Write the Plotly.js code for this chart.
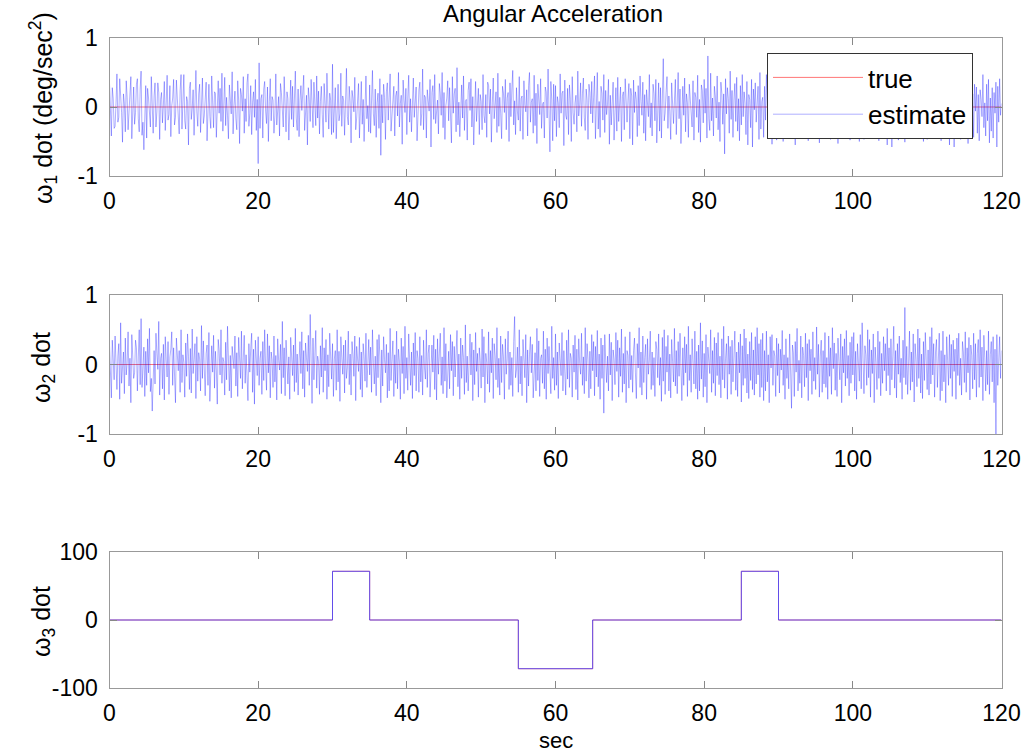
<!DOCTYPE html>
<html>
<head>
<meta charset="utf-8">
<script src="https://cdn.plot.ly/plotly-3.0.1.min.js"></script>
<style>html,body{margin:0;padding:0;background:#fff;}#chart{width:1024px;height:754px;}</style>
</head>
<body>
<div id="chart"></div>
<script>
// ---- data ----
var sampleStep = 0.125; // seconds between estimate samples
var w1Estimate = [
0.35,-0.12,-0.42,0.28,0.12,-0.31,-0.28,0.05,0.48,-0.22,
-0.15,0.41,0.22,-0.08,-0.51,0.19,0.05,-0.36,0.38,0.14,
-0.33,-0.04,0.18,0.44,-0.46,0.09,0.29,-0.25,-0.08,0.33,
0.41,-0.17,-0.36,0.26,0.52,-0.41,-0.22,-0.62,0.09,0.31,
-0.45,0.27,0.13,-0.12,-0.29,0.44,0.06,-0.38,0.16,0.35,
-0.29,-0.07,0.35,0.21,-0.47,0.11,0.21,-0.23,0.03,0.37,
-0.34,0.08,0.46,-0.19,-0.11,0.31,-0.43,0.02,0.13,0.4,
-0.26,-0.15,0.39,0.12,-0.11,-0.39,0.24,0.47,-0.32,0.06,
0.47,-0.2,-0.32,0.15,0.08,-0.55,0.27,0.36,-0.18,-0.03,
0.25,-0.41,0.1,0.53,-0.07,-0.28,0.19,0.33,-0.37,0.04,
0.42,-0.24,-0.13,0.11,0.36,-0.49,0.07,0.33,-0.14,-0.31,
0.45,0.12,-0.3,0.22,0.2,-0.44,-0.05,0.38,-0.09,0.27,
-0.21,0.49,-0.35,0.06,0.43,-0.27,0.14,-0.12,-0.46,0.32,
0.16,-0.1,0.51,-0.39,0.02,0.23,-0.17,-0.33,0.38,0.09,
-0.53,0.27,0.18,-0.06,0.44,-0.38,0.12,-0.21,0.35,0.48,
-0.28,-0.09,0.31,-0.4,0.07,0.22,-0.15,0.4,-0.34,0.11,
-0.82,0.64,-0.31,0.12,0.18,-0.45,0.26,0.37,-0.06,-0.24,
0.29,-0.5,0.08,0.41,-0.2,0.15,0.1,-0.38,-0.12,0.48,
-0.26,0.03,0.15,-0.42,0.34,0.21,-0.13,-0.29,0.44,-0.05,
-0.36,0.22,0.12,-0.48,0.07,0.39,-0.18,0.3,-0.29,0.14,
0.52,-0.16,-0.34,0.26,-0.43,0.09,0.31,-0.05,0.19,0.46,
-0.34,0.04,0.17,-0.55,0.28,0.11,-0.21,0.4,-0.12,-0.3,
0.36,0.05,-0.27,0.45,-0.16,0.23,-0.39,0.08,0.3,-0.11,
-0.44,0.34,0.14,-0.22,0.49,-0.07,-0.32,0.2,0.1,-0.4,
0.62,-0.37,0.15,0.28,-0.46,0.05,0.33,-0.2,-0.1,0.49,
-0.28,0.16,0.09,-0.41,0.38,0.56,-0.14,-0.26,0.3,0.07,
-0.52,0.24,0.13,-0.07,0.43,-0.33,-0.16,0.19,0.34,-0.45,
0.08,0.37,-0.25,0.11,-0.5,0.27,0.45,-0.17,0.02,-0.36,
0.32,-0.38,0.14,0.53,-0.1,-0.27,0.26,-0.44,0.06,0.2,
-0.31,0.41,-0.7,0.18,-0.23,0.33,0.14,-0.47,0.22,0.35,
-0.19,0.07,0.48,-0.35,-0.12,0.06,0.3,-0.42,0.16,0.23,
-0.13,0.5,-0.29,0.05,0.17,-0.54,0.39,0.1,-0.08,0.27,
-0.4,0.13,0.46,-0.22,0.12,-0.36,0.29,0.42,-0.15,0.04,
0.29,-0.49,0.08,0.25,0.36,-0.27,-0.1,0.55,-0.33,0.17,
0.14,-0.45,0.25,0.06,-0.06,0.4,-0.58,0.21,0.31,-0.18,
0.47,-0.24,-0.05,0.1,-0.39,0.34,0.2,-0.12,0.5,-0.3,
0.21,-0.47,0.02,0.13,0.38,-0.2,0.28,-0.14,-0.52,0.44,
-0.09,0.19,0.27,-0.36,0.57,-0.26,0.07,-0.43,0.15,0.32,
-0.16,0.45,-0.34,0.08,0.11,-0.48,0.24,0.36,-0.05,0.41,
-0.29,0.15,-0.55,0.22,0.37,-0.21,0.09,0.27,-0.4,0.18,
0.08,-0.33,0.47,-0.12,-0.23,0.18,-0.44,0.36,0.31,-0.1,
0.26,-0.51,0.06,0.42,-0.17,0.05,0.22,-0.37,0.49,-0.28,
0.14,-0.09,-0.46,0.3,0.2,-0.08,0.4,-0.33,0.13,0.21,
-0.5,0.35,-0.14,0.26,0.53,-0.26,0.09,-0.4,0.28,-0.06,
-0.19,0.44,-0.35,0.12,0.16,-0.47,0.38,0.03,-0.07,0.25,
-0.42,0.31,0.5,-0.22,0.07,0.12,-0.38,0.46,-0.27,0.2,
-0.53,0.33,0.17,-0.11,0.41,-0.31,0.04,0.07,-0.45,0.29,
0.22,-0.16,0.55,-0.24,-0.65,0.37,0.1,-0.49,0.33,-0.2,
0.31,-0.43,0.15,0.06,-0.3,0.48,-0.09,0.2,0.23,-0.56,
0.39,-0.12,-0.18,0.27,-0.4,0.32,0.11,-0.5,0.44,-0.08,
-0.25,0.06,0.17,-0.36,0.52,-0.13,0.03,0.35,-0.28,0.19,
0.42,-0.15,-0.34,0.26,0.1,-0.47,0.33,0.21,-0.1,0.37,
-0.23,0.14,0.45,-0.46,0.09,0.5,-0.32,0.08,-0.44,0.3,
0.2,-0.19,0.47,-0.37,0.24,-0.11,0.04,0.4,-0.54,0.17,
-0.26,0.13,0.36,-0.48,0.12,0.28,-0.35,0.43,-0.21,0.05,
0.29,-0.5,0.15,0.22,-0.33,0.41,-0.05,-0.22,0.1,0.34,
-0.46,0.27,0.16,-0.55,0.39,-0.08,0.22,0.11,-0.43,0.31,
-0.27,0.45,0.08,-0.12,0.36,-0.38,0.18,-0.49,0.25,0.09,
-0.14,0.47,-0.3,0.06,-0.42,0.33,0.2,-0.2,0.4,-0.52,
0.13,0.35,-0.35,0.28,-0.45,0.04,0.7,-0.2,-0.09,0.21,
0.44,-0.31,0.16,-0.07,-0.47,0.35,0.11,-0.24,0.09,0.4,
-0.4,0.19,0.5,-0.17,0.26,-0.53,0.02,0.3,-0.12,0.42,
-0.36,0.19,0.06,-0.44,0.33,0.13,-0.06,-0.29,0.38,-0.48,
0.21,0.14,-0.15,0.46,-0.37,0.11,-0.51,0.32,0.24,-0.23,
0.4,-0.09,0.27,-0.45,0.74,-0.17,-0.34,0.49,-0.2,0.13,
-0.42,0.3,0.16,-0.16,0.45,-0.33,0.07,-0.5,0.36,0.2,
-0.25,0.19,-0.68,0.41,-0.1,0.28,0.12,-0.38,0.52,-0.18,
0.24,-0.44,0.1,0.34,-0.21,0.43,-0.35,0.12,-0.49,0.31,
-0.26,0.47,-0.14,0.22,0.06,-0.4,0.37,-0.55,0.18,0.11,
-0.3,0.4,-0.58,0.26,-0.04,0.35,-0.22,0.13,0.3,-0.47,
0.5,-0.32,0.08,0.14,-0.44,0.3,-0.19,0.47,0.05,-0.37,
0.24,-0.11,0.4,-0.54,0.17,0.28,-0.26,0.36,-0.48,0.12,
-0.35,0.43,-0.21,0.03,0.29,-0.5,0.15,0.2,-0.33,0.41,
-0.22,0.1,0.07,-0.46,0.34,-0.16,0.27,0.12,-0.55,0.39,
-0.08,0.22,-0.43,0.31,0.18,-0.27,0.45,-0.12,0.04,0.36,
-0.38,0.18,-0.49,0.25,0.09,-0.14,0.47,-0.3,0.06,-0.42,
0.33,-0.2,0.4,0.15,-0.52,0.13,-0.35,0.28,0.21,-0.45,
0.21,-0.09,0.44,-0.31,0.16,0.07,-0.47,0.35,-0.24,0.09,
-0.4,0.5,-0.17,0.26,-0.53,0.3,0.12,-0.12,0.42,-0.36,
0.19,-0.44,0.33,0.05,-0.06,-0.29,0.38,-0.48,0.21,0.13,
-0.42,0.3,-0.16,0.11,0.45,-0.33,0.07,-0.5,0.36,0.22,
-0.25,0.19,-0.47,0.41,-0.1,0.06,0.28,-0.38,0.52,-0.18,
0.24,-0.44,0.34,0.1,-0.21,0.43,-0.35,0.12,-0.49,0.31,
-0.26,0.47,-0.14,0.22,-0.4,0.37,0.05,-0.55,0.18,0.26,
-0.3,0.4,-0.58,0.26,-0.35,0.2,0.12,-0.29,0.38,-0.48,
0.21,-0.15,0.46,-0.37,0.11,0.04,-0.51,0.32,-0.23,0.4,
-0.09,0.27,-0.45,0.17,-0.34,0.49,-0.2,0.13,0.08,-0.42,
0.3,-0.16,0.45,-0.33,0.07,0.22,-0.5,0.36,-0.25,0.19,
-0.47,0.41,-0.1,0.28,-0.38,0.52,0.03,-0.18,0.24,-0.44,
0.34,-0.21,0.43,-0.35,0.12,-0.49,0.31,0.14,-0.26,0.47,
-0.14,0.22,-0.4,0.37,-0.55,0.18,0.09,-0.3,0.4,-0.58,
0.26,-0.35,0.2,0.44,-0.31,0.16,-0.47,0.35,-0.24,0.09,
-0.4,0.5,-0.17,0.26,-0.53,0.3,-0.12,0.42,-0.36,0.19,
-0.44,0.33,-0.06,0.29,-0.38,0.18,-0.49,0.25,0.11,-0.14,
0.47,-0.3,0.06,-0.42,0.33,-0.2,0.4,-0.52,0.13,-0.35,
0.28,-0.45,0.21,-0.09,0.36,-0.58,0.3,-0.22,0.41,-0.12,
0.05];
var w2Estimate = [
0.28,-0.1,-0.48,0.35,0.14,-0.22,0.41,-0.05,-0.36,0.12,
0.3,-0.5,0.6,-0.27,0.08,0.18,-0.42,0.38,-0.15,0.02,
0.47,-0.31,0.09,-0.55,0.43,0.2,-0.2,-0.12,0.35,0.24,
-0.38,0.11,0.5,-0.29,0.66,-0.33,0.06,0.25,-0.46,0.19,
-0.3,0.37,-0.12,0.52,-0.39,-0.2,-0.67,0.04,0.2,-0.28,
0.45,0.16,-0.07,0.62,-0.44,0.09,0.16,-0.35,0.29,-0.51,
0.4,0.07,-0.18,0.33,-0.43,0.11,0.22,0.47,-0.3,0.24,
-0.1,-0.55,0.38,0.06,-0.09,0.2,-0.4,0.5,-0.26,0.14,
0.03,-0.47,0.31,-0.17,0.44,0.12,-0.36,0.23,-0.41,0.51,
-0.13,0.07,0.3,-0.49,0.4,-0.24,0.17,0.08,-0.38,0.56,
-0.2,0.34,-0.05,-0.45,0.16,0.28,-0.3,0.46,-0.53,0.1,
0.27,-0.11,0.42,-0.34,0.19,-0.08,-0.57,0.36,0.21,-0.15,
0.5,-0.27,0.1,0.04,-0.44,0.32,-0.22,0.55,0.15,-0.38,
0.13,-0.48,0.26,0.07,-0.06,0.41,-0.31,0.17,-0.46,0.39,
-0.04,-0.2,0.48,-0.35,0.1,0.42,-0.27,0.14,-0.16,-0.52,
0.3,-0.11,0.23,0.45,-0.4,0.22,-0.57,0.35,0.08,-0.16,
0.4,-0.3,0.09,0.19,-0.43,0.33,-0.23,0.5,-0.02,-0.37,
0.44,-0.12,0.27,-0.48,0.18,0.07,-0.33,0.41,-0.25,0.13,
-0.51,0.37,0.06,-0.08,0.29,-0.42,0.62,-0.19,0.24,-0.45,
0.35,0.03,-0.28,0.11,-0.5,0.39,0.16,-0.16,0.28,-0.39,
0.52,-0.26,0.15,-0.44,0.06,0.33,-0.13,0.47,-0.35,0.2,
-0.47,0.31,0.1,-0.1,0.42,-0.3,0.72,-0.17,-0.56,0.38,
-0.22,0.13,0.49,-0.34,0.12,0.04,-0.43,0.27,-0.18,0.53,
-0.4,0.24,-0.09,0.36,-0.5,0.14,-0.32,0.45,0.09,-0.21,
0.3,-0.46,0.08,0.2,-0.37,0.5,-0.25,0.19,-0.53,0.4,
0.1,-0.14,0.28,-0.41,0.35,-0.2,-0.05,0.48,-0.29,0.15,
-0.44,0.33,0.14,-0.17,0.41,-0.52,0.26,0.06,-0.1,0.39,
-0.36,0.18,-0.47,0.3,0.12,-0.24,0.45,-0.33,0.22,0.36,
-0.15,0.25,-0.4,0.5,0.03,-0.28,0.12,-0.45,0.36,-0.19,
0.43,0.11,-0.55,0.21,-0.31,0.4,0.07,-0.12,0.29,-0.48,
0.17,-0.38,0.52,-0.23,0.08,0.34,-0.46,0.14,-0.27,0.48,
-0.35,0.22,0.05,-0.5,0.38,-0.13,0.26,-0.42,0.55,-0.2,
0.1,-0.37,0.44,0.02,-0.3,0.18,-0.49,0.31,-0.16,0.46,
-0.38,0.2,0.09,-0.4,0.4,-0.25,0.13,-0.44,0.35,-0.05,
-0.21,0.5,-0.33,0.16,0.28,-0.47,0.06,0.28,-0.11,0.42,
-0.36,0.22,-0.51,0.37,-0.14,0.13,0.45,-0.3,0.11,-0.42,
0.53,-0.24,0.3,-0.48,0.04,0.19,-0.35,0.43,-0.09,0.33,
-0.45,0.26,-0.18,0.07,0.49,-0.32,0.15,-0.5,0.38,-0.2,
0.28,0.1,-0.43,0.57,-0.26,0.12,-0.38,0.02,0.44,-0.15,
0.32,-0.52,0.21,-0.29,0.46,-0.1,0.16,-0.47,0.24,0.06,
-0.34,0.51,-0.18,0.4,-0.55,0.16,0.03,-0.28,0.47,-0.4,
0.2,-0.12,0.38,-0.49,0.3,0.13,-0.22,0.53,-0.33,0.09,
-0.44,0.41,-0.26,0.29,0.11,-0.5,0.37,-0.14,0.08,0.48,
-0.36,0.18,-0.3,0.1,-0.46,0.33,0.69,-0.19,-0.08,0.25,
-0.4,0.5,-0.28,0.12,-0.45,0.36,0.06,-0.19,0.43,-0.55,
0.21,-0.31,0.14,0.4,-0.12,0.29,-0.48,0.03,0.17,-0.38,
0.52,-0.23,0.34,-0.46,0.09,0.14,-0.27,0.48,-0.35,0.22,
-0.5,0.38,-0.13,0.26,-0.07,-0.42,0.55,-0.2,0.1,-0.37,
0.44,-0.3,0.18,-0.49,0.31,0.05,-0.16,0.46,-0.38,0.2,
-0.04,-0.44,0.35,-0.21,0.5,-0.33,0.16,0.09,-0.47,0.28,
-0.11,0.42,-0.36,0.22,-0.51,0.37,0.02,-0.14,0.45,-0.3,
0.11,-0.42,0.53,-0.24,0.3,0.07,-0.48,0.19,-0.35,0.43,
-0.09,0.33,-0.45,0.26,-0.18,0.49,-0.32,0.15,-0.5,0.38,
-0.2,0.28,-0.7,0.43,0.06,-0.26,0.12,-0.38,0.44,-0.15,
0.32,-0.52,0.21,0.08,-0.29,0.46,-0.1,0.35,-0.47,0.24,
-0.17,0.51,-0.4,0.16,-0.28,0.4,-0.55,0.2,0.13,-0.34,
0.47,-0.22,0.13,-0.4,0.2,0.38,-0.12,-0.49,0.3,-0.05,
0.53,-0.33,0.18,-0.44,0.41,-0.26,0.1,0.29,-0.5,0.37,
-0.14,0.06,0.48,-0.36,0.18,-0.3,0.1,-0.46,0.33,0.22,
-0.19,0.44,-0.3,0.1,-0.53,0.39,-0.24,0.5,-0.43,0.26,
-0.11,0.42,-0.38,0.15,-0.48,0.36,0.04,-0.25,0.52,-0.31,
0.2,-0.42,0.33,-0.17,0.45,0.09,-0.52,0.24,-0.3,0.4,
-0.12,0.29,-0.46,0.55,-0.23,0.14,-0.4,0.37,0.07,-0.28,
0.48,-0.35,0.19,-0.5,0.28,-0.38,0.6,-0.21,0.34,-0.47,
0.16,-0.32,0.43,-0.55,0.25,0.05,-0.13,0.5,-0.4,0.2,
-0.27,0.39,-0.45,0.31,-0.16,0.46,-0.29,0.12,-0.48,0.37,
-0.22,0.55,-0.34,0.09,0.3,-0.5,0.41,-0.14,0.26,-0.43,
0.35,-0.25,0.08,0.48,-0.37,0.18,-0.46,0.32,-0.12,0.44,
-0.54,0.27,-0.3,0.51,-0.2,0.38,-0.41,0.15,-0.49,0.33,
-0.23,0.46,-0.36,0.21,-0.44,0.4,-0.28,0.53,-0.15,0.3,
-0.47,0.36,-0.33,0.45,-0.52,0.2,-0.38,0.48,-0.25,0.14,
-0.55,0.4,-0.05,0.43,-0.3,0.2,0.12,-0.46,0.38,-0.16,
0.3,-0.41,0.22,-0.08,0.49,-0.3,0.14,-0.5,0.37,-0.2,
0.1,-0.35,0.44,-0.25,-0.63,0.28,0.17,-0.46,0.33,-0.11,
0.52,-0.38,0.06,-0.27,0.41,-0.48,0.25,0.13,-0.32,0.45,
-0.19,0.3,-0.52,0.36,-0.09,0.22,-0.43,0.47,-0.24,0.1,
-0.36,0.54,-0.14,0.29,-0.47,0.12,0.35,-0.4,0.2,-0.28,
0.46,-0.33,0.1,-0.5,0.41,-0.17,0.24,-0.43,0.53,-0.06,
0.31,-0.37,0.16,-0.46,0.38,0.05,-0.22,0.44,-0.55,0.26,
-0.12,0.37,-0.31,0.49,-0.2,0.13,-0.45,0.32,-0.27,0.4,
-0.15,0.46,-0.38,0.19,-0.5,0.3,0.08,-0.24,0.43,-0.35,
0.6,-0.1,-0.42,0.27,0.14,-0.3,0.5,-0.19,0.36,-0.47,
0.21,-0.13,0.44,-0.55,0.25,0.03,-0.36,0.48,-0.2,0.33,
-0.45,0.16,-0.27,0.4,-0.09,0.3,-0.38,0.52,-0.16,0.24,
-0.44,0.37,-0.22,0.12,0.55,-0.34,0.2,-0.48,0.3,-0.14,
0.41,-0.26,0.09,-0.5,0.35,-0.19,0.82,-0.29,0.26,-0.43,
0.12,0.48,-0.37,0.18,-0.25,0.44,-0.54,0.3,0.07,-0.32,
0.51,-0.2,0.38,-0.41,0.15,-0.49,0.33,-0.23,0.46,-0.12,
-0.36,0.21,-0.44,0.4,-0.28,0.53,-0.15,0.3,-0.47,0.18,
0.36,-0.33,0.1,0.45,-0.52,0.2,-0.38,0.48,-0.25,0.14,
-0.55,0.4,0.06,-0.3,0.43,-0.2,0.29,-0.46,0.35,-0.1,
0.22,-0.5,0.38,-0.16,0.45,-0.3,0.09,-0.44,0.33,0.18,
-0.26,0.47,-0.4,0.24,-0.12,0.39,-0.51,0.28,0.13,-0.35,
0.45,-0.22,0.3,-0.47,0.16,0.36,-0.33,0.5,-0.18,0.25,
-0.52,0.42,0.1,-0.38,0.2,-0.29,0.48,-0.43,0.14,0.33,
-0.25,0.4,-0.55,0.22,-1.0,0.43,-0.3,0.18,0.4,-0.2,
0.2];
var trueTime = [0, 120];
var w1True = [0, 0];
var w2True = [0, 0];
var w3Time = [0, 30, 30, 35, 35, 55, 55, 65, 65, 85, 85, 90, 90, 120];
var w3True = [0, 0, 71.6, 71.6, 0, 0, -71.6, -71.6, 0, 0, 71.6, 71.6, 0, 0];
var w3Estimate = [0, 0, 71.6, 71.6, 0, 0, -71.6, -71.6, 0, 0, 71.6, 71.6, 0, 0];
var xTicks = [0, 20, 40, 60, 80, 100, 120];
var yTicks12 = [-1, 0, 1];
var yTicks3 = [-100, 0, 100];
var seriesNames = ['true', 'estimate'];
var chartTitle = 'Angular Acceleration';
var xLabel = 'sec';
var yLabels = ['ω<sub>1</sub> dot (deg/sec<sup>2</sup>)', 'ω<sub>2</sub> dot', 'ω<sub>3</sub> dot'];

// ---- build ----
function timeAxis(n) { var t = []; for (var i = 0; i < n; i++) t.push(i * sampleStep); return t; }
var t1 = timeAxis(w1Estimate.length);
var t2 = timeAxis(w2Estimate.length);

var RED = 'rgba(255,40,40,0.8)';
var BLUE = 'rgba(0,0,255,0.45)';
var BLUE3 = 'rgba(70,70,255,0.85)';

var traces = [
  {x: trueTime, y: w1True, xaxis: 'x', yaxis: 'y', mode: 'lines', name: seriesNames[0], line: {color: RED, width: 0.8}, showlegend: true},
  {x: t1, y: w1Estimate, xaxis: 'x', yaxis: 'y', mode: 'lines', name: seriesNames[1], line: {color: BLUE, width: 0.7}, showlegend: true},
  {x: trueTime, y: w2True, xaxis: 'x2', yaxis: 'y2', mode: 'lines', name: seriesNames[0], line: {color: RED, width: 0.8}, showlegend: false},
  {x: t2, y: w2Estimate, xaxis: 'x2', yaxis: 'y2', mode: 'lines', name: seriesNames[1], line: {color: BLUE, width: 0.7}, showlegend: false},
  {x: w3Time, y: w3True, xaxis: 'x3', yaxis: 'y3', mode: 'lines', name: seriesNames[0], line: {color: RED, width: 0.8}, showlegend: false},
  {x: w3Time, y: w3Estimate, xaxis: 'x3', yaxis: 'y3', mode: 'lines', name: seriesNames[1], line: {color: BLUE3, width: 1}, showlegend: false}
];

var W = 1024, H = 754;
var xDom = [109.5 / W, 1001.5 / W];
function yDom(top, bottom) { return [1 - bottom / H, 1 - top / H]; }
var FONT = 'Liberation Sans, Arial, sans-serif';

function xAxis(anchor) {
  return {
    domain: xDom, anchor: anchor, range: [0, 120], tickvals: xTicks, ticktext: xTicks.map(String),
    ticks: 'inside', ticklen: 7, tickcolor: '#888', linecolor: '#999', linewidth: 1, mirror: 'ticks',
    showline: true, showgrid: false, zeroline: false, tickfont: {family: FONT, size: 23, color: '#000'},
    ticklabelstandoff: 4
  };
}
function yAxis(anchor, dom, range, ticks) {
  return {
    domain: dom, anchor: anchor, range: range, tickvals: ticks, ticktext: ticks.map(String),
    ticks: 'inside', ticklen: 7, tickcolor: '#888', linecolor: '#999', linewidth: 1, mirror: 'ticks',
    showline: true, showgrid: false, zeroline: false, tickfont: {family: FONT, size: 23, color: '#000'},
    ticklabelstandoff: 6
  };
}

var layout = {
  width: W, height: H,
  margin: {l: 0, r: 0, t: 0, b: 0},
  paper_bgcolor: '#fff', plot_bgcolor: '#fff',
  showlegend: true,
  title: {text: chartTitle, x: 553 / W, xref: 'paper', xanchor: 'center', y: 1 - 14 / H, yref: 'paper', yanchor: 'middle',
          font: {family: FONT, size: 24, color: '#000'}},
  xaxis: xAxis('y'),
  yaxis: yAxis('x', yDom(38, 176), [-1, 1], yTicks12),
  xaxis2: xAxis('y2'),
  yaxis2: yAxis('x2', yDom(295, 434), [-1, 1], yTicks12),
  xaxis3: xAxis('y3'),
  yaxis3: yAxis('x3', yDom(552, 688), [-100, 100], yTicks3),
  legend: {x: 767 / W, y: 1 - 53 / H, xanchor: 'left', yanchor: 'top', bgcolor: '#fff', bordercolor: '#333', borderwidth: 1,
           font: {family: FONT, size: 26, color: '#000'}, itemwidth: 90, tracegroupgap: 0},
  annotations: [
    {text: yLabels[0], xref: 'paper', yref: 'paper', x: 43 / W, y: 1 - 108 / H, textangle: -90, showarrow: false,
     xanchor: 'center', yanchor: 'middle', font: {family: FONT, size: 25, color: '#000'}},
    {text: yLabels[1], xref: 'paper', yref: 'paper', x: 43 / W, y: 1 - 368 / H, textangle: -90, showarrow: false,
     xanchor: 'center', yanchor: 'middle', font: {family: FONT, size: 25, color: '#000'}},
    {text: yLabels[2], xref: 'paper', yref: 'paper', x: 43 / W, y: 1 - 622 / H, textangle: -90, showarrow: false,
     xanchor: 'center', yanchor: 'middle', font: {family: FONT, size: 25, color: '#000'}},
    {text: xLabel, xref: 'paper', yref: 'paper', x: 555.5 / W, y: 1 - 740 / H, showarrow: false,
     xanchor: 'center', yanchor: 'middle', font: {family: FONT, size: 22, color: '#000'}}
  ]
};

Plotly.newPlot('chart', traces, layout, {displayModeBar: false, staticPlot: true});
</script>
</body>
</html>
